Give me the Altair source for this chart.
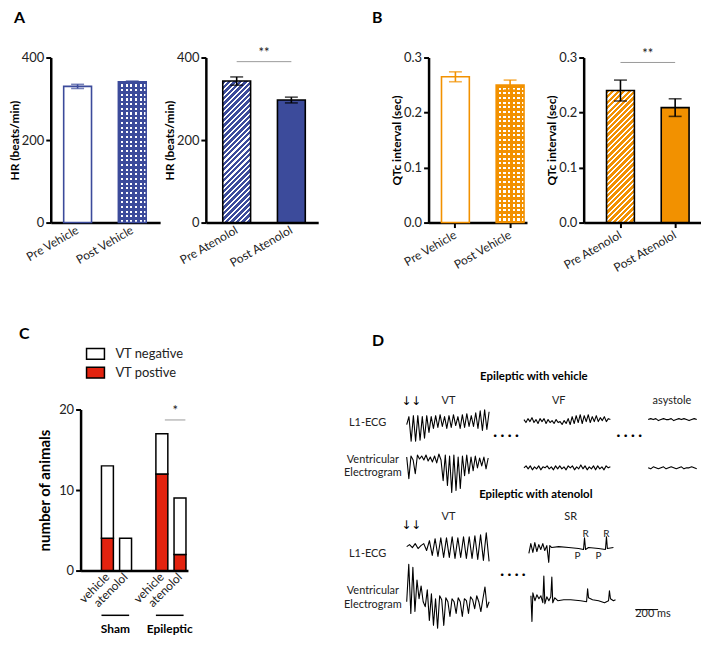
import math
import altair as alt
import pandas as pd

FONT = "Lato"
INK = "#222222"
BLUE = "#3c4b9b"
ORANGE = "#f29100"
RED = "#e3230f"
SIG = "#9a9a9a"

# ---------------- data ----------------
vehicle_cats = ["Pre Vehicle", "Post Vehicle"]
atenolol_cats = ["Pre Atenolol", "Post Atenolol"]
hr_vehicle_mean = [330, 341]
hr_vehicle_sem = [5, 2]
hr_atenolol_mean = [343, 297]
hr_atenolol_sem = [10, 7]
qtc_vehicle_mean = [0.265, 0.250]
qtc_vehicle_sem = [0.009, 0.009]
qtc_atenolol_mean = [0.240, 0.209]
qtc_atenolol_sem = [0.019, 0.016]
hr_ticks = [0, 200, 400]
qtc_ticks = [0.0, 0.1, 0.2, 0.3]

c_groups = ["Sham", "Sham", "Epileptic", "Epileptic"]
c_treatments = ["vehicle", "atenolol", "vehicle", "atenolol"]
c_vt_positive = [4, 0, 12, 2]
c_total = [13, 4, 17, 9]
c_ticks = [0, 10, 20]

# Panel D traces (amplitudes in display units, positive = up)
vt_vehicle_ecg = [0, 8, -17, 9, -17, 9, -16, 8, -14, 9, -8, 8, -4, 9, -3, 10, -2, 8, -4, 9,
                  -3, 10, -1, 8, -4, 10, -3, 11, -2, 9, -2, 12, -4, 14, -6, 15, -5, 13]
vt_vehicle_ve = [3, -19, 4, 0, -14, 5, 1, 4, 0, 5, -1, 3, -2, 4, -3, 6, 0, -21, 5, -26, 4,
                 -33, 5, -31, 3, -29, 4, -16, 5, -14, 3, -11, 4, -8, 2, -6, 3, -9, 2]
vf_ecg = [1, -2, 2, -1, 3, -2, 1, -3, 2, -1, 2, -3, 1, -2, 0, -3, 1, -2, -1, -4, 0, -3,
          2, -4, 4, -3, 5, -2, 6, -3, 5, -1, 6, -2, 4, -1, 5, -1, 3, 0, 4, -1, 2, 1]
vf_ve = [0, 2, -1, 2, -2, 1, -1, 2, -2, 1, 0, 2, -1, 1, -2, 2, -1, 2, -1, 1, -2, 2,
         0, 2, -2, 1, -1, 3, -1, 2, -2, 1, -1, 2, -2, 2, -1, 1, -2, 2, 0, 1]
asystole_ecg = [0, 1, 0, 1, -1, 0, 1, 0, 0, 1, -1, 0, 1, 0, 1, 0, -1, 0, 1, 0]
asystole_ve = [0, -1, 1, 0, -1, 0, 1, -1, 0, 1, 0, -1, 0, 1, -1, 0, 0, 1, 0, -1]
vt_atenolol_ecg = [0, 2, -1, 3, -2, 1, 3, -4, 6, -9, 8, -10, 9, -11, 9, -11, 10, -12, 9, -11,
                   10, -12, 10, -12, 11, -13, 12, -14, 14, -15]
vt_atenolol_ve = [0, 38, -12, 35, -10, 22, 3, 16, 0, -5, 12, -19, 8, -24, 3, -27, 6, 2, -24, 4,
                  0, -15, 3, 0, -12, 4, 0, -15, 3, 1, -12, 5, 2, -7, 6, 0, -10, 3, 15, -6, 0]
sr_ecg_ms = [0, 17, 35, 52, 70, 87, 104, 122, 139, 157, 174, 183, 200, 261, 348, 435, 478,
             487, 496, 522, 609, 670, 679, 687, 740]
sr_ecg_val = [-6, 4, -5, 5, -4, 3, -2, 4, -3, 2, -15, 2, 0, 1, 0, -1, -2, 10, -2, 0, -1, -2,
              11, -1, 0]
sr_ve_ms = [0, 9, 17, 35, 52, 70, 87, 104, 113, 122, 139, 157, 174, 183, 191, 209, 235, 287,
            348, 435, 487, 496, 504, 539, 592, 644, 679, 687, 696, 722, 740]
sr_ve_val = [5, -21, 8, 0, 6, 2, 5, -2, 25, -3, 4, 0, 4, 24, -2, 3, 0, 1, 1, 0, -1, 12, 3,
             1, 0, -2, 0, 10, 2, 0, 1]

# ---------------- helpers ----------------
H_TOP = 166
STEP, BW = 55, 28
ROW_GAP = 188          # gap between the top row plots and the bottom row plots
C_SHIFT = 30           # C plot starts this far right of A1 plot


def stripe_stops(length, period, on_frac, c_on, c_off):
    stops = []
    k = 0
    while k * period < length:
        a = round(k * period / length, 4)
        b = round(min((k + on_frac) * period / length, 1.0), 4)
        c = round(min((k + 1) * period / length, 1.0), 4)
        stops += [{"offset": a, "color": c_on}, {"offset": b, "color": c_on},
                  {"offset": b, "color": c_off}, {"offset": c, "color": c_off}]
        k += 1
    return stops


def hatch(w, h, color):
    k = (w + h) / (w * w + h * h)
    length = (w + h) / math.sqrt(2)
    return {"gradient": "linear", "x1": 0, "y1": 0, "x2": round(w * k, 5), "y2": round(h * k, 5),
            "stops": stripe_stops(length, 3.9, 0.62, color, "white")}


def vstripes(w, color):
    return {"gradient": "linear", "x1": 0, "y1": 0, "x2": 1, "y2": 0,
            "stops": stripe_stops(w, 4.7, 0.55, color, "white")}


def hstripes(h, color):
    return {"gradient": "linear", "x1": 0, "y1": 0, "x2": 0, "y2": 1,
            "stops": stripe_stops(h, 4.7, 0.55, color, "rgba(255,255,255,0)")}


def bar_panel(cats, means, sems, ymax, ticks, fmt, ytitle, kinds, color, edge, err_color,
              width, first_gap, xticks, sig_y, sig_ty, letter=None, letter_dx=0):
    df = pd.DataFrame({"cat": cats, "mean": means,
                       "lo": [m - s for m, s in zip(means, sems)],
                       "hi": [m + s for m, s in zip(means, sems)]})
    pi = 1 - BW / STEP
    outer = width - (STEP + BW)
    xs = alt.Scale(domain=cats, paddingInner=pi, paddingOuter=outer / (2 * STEP),
                   align=first_gap / outer)
    xaxis = alt.Axis(labelAngle=-30, labelAlign="right", labelBaseline="middle", labelPadding=6,
                     labelFontSize=12, labelFont=FONT, labelColor=INK, ticks=xticks, tickSize=5,
                     tickWidth=2, tickColor="black", domainColor="black", domainWidth=2.5)
    ys = alt.Scale(domain=[0, ymax], nice=False)
    yaxis = alt.Axis(values=ticks, format=fmt, labelFontSize=13, labelFont=FONT, labelColor=INK,
                     labelPadding=2, tickSize=5, tickWidth=2, tickColor="black",
                     domainColor="black", domainWidth=2.5, grid=False, titleFont=FONT,
                     titleFontSize=12, titleFontWeight="bold", titleColor="black", titlePadding=0)

    def X(f="cat:N", **kw):
        return alt.X(f, scale=xs, axis=xaxis, title=None, **kw)

    def Y(f):
        return alt.Y(f, scale=ys, axis=yaxis, title=ytitle)

    base = alt.Chart(df)
    layers = []
    for cat, kind, m in zip(cats, kinds, means):
        sub = base.transform_filter(alt.datum.cat == cat)
        enc = dict(x=X(), y=Y("mean:Q"))
        h = m / ymax * H_TOP
        if kind == "open":
            layers.append(sub.mark_bar(fill="white", stroke=color, strokeWidth=1.6).encode(**enc))
        elif kind == "solid":
            layers.append(sub.mark_bar(fill=color, stroke=edge, strokeWidth=1.6).encode(**enc))
        elif kind == "hatch":
            layers.append(sub.mark_bar(fill=hatch(BW, h, color), stroke=edge,
                                       strokeWidth=1.6).encode(**enc))
        elif kind == "checker":
            layers.append(sub.mark_bar(fill=vstripes(BW, color)).encode(**enc))
            layers.append(sub.mark_bar(fill=hstripes(h, color)).encode(**enc))
            layers.append(sub.mark_bar(fillOpacity=0, stroke=color, strokeWidth=1.6).encode(**enc))
    layers.append(base.mark_rule(color=err_color, strokeWidth=1.6).encode(
        x=X(bandPosition=0.5), y=Y("lo:Q"), y2="hi:Q"))
    layers.append(base.mark_tick(color=err_color, thickness=1.6, size=13).encode(
        x=X(bandPosition=0.5), y=Y("hi:Q")))
    layers.append(base.mark_tick(color=err_color, thickness=1.6, size=13).encode(
        x=X(bandPosition=0.5), y=Y("lo:Q")))
    if sig_y is not None:
        sdf = pd.DataFrame({"a": [cats[0]], "b": [cats[1]], "y": [sig_y], "ty": [sig_ty],
                            "s": ["**"]})
        sbase = alt.Chart(sdf)
        layers.append(sbase.mark_rule(color=SIG, strokeWidth=1).encode(
            x=X("a:N", bandPosition=0.5), x2=alt.X2("b:N", bandPosition=0.5), y=Y("y:Q")))
        layers.append(sbase.mark_text(fontSize=13, font=FONT, color=INK, baseline="middle",
                                      dx=(STEP - BW) / 2).encode(
            x=X("a:N", bandPosition=1), y=Y("ty:Q"), text="s:N"))
    props = dict(width=width, height=H_TOP)
    if letter:
        props["title"] = alt.TitleParams(letter, anchor="start", frame="group", dx=letter_dx,
                                         offset=26, fontSize=16, font=FONT, fontWeight="bold",
                                         color="black")
    return alt.layer(*layers).properties(**props)


def spacer(w):
    return alt.Chart(pd.DataFrame({"z": pd.Series([], dtype=float)})).mark_point(
        opacity=0, size=0).encode(
        x=alt.X("z:Q", axis=None), y=alt.Y("z:Q", axis=None)).properties(width=w, height=10)


a1 = bar_panel(vehicle_cats, hr_vehicle_mean, hr_vehicle_sem, 400, hr_ticks, "d",
               "HR (beats/min)", ["open", "checker"], BLUE, BLUE, BLUE, 110, 13, False,
               None, None, letter="A", letter_dx=-37)
a2 = bar_panel(atenolol_cats, hr_atenolol_mean, hr_atenolol_sem, 400, hr_ticks, "d",
               "HR (beats/min)", ["hatch", "solid"], BLUE, "black", "black", 113, 17, False,
               390, 412)
b1 = bar_panel(vehicle_cats, qtc_vehicle_mean, qtc_vehicle_sem, 0.3, qtc_ticks, ".1f",
               "QTc interval (sec)", ["open", "checker"], ORANGE, ORANGE, ORANGE, 99, 13, True,
               None, None, letter="B", letter_dx=-57)
b2 = bar_panel(atenolol_cats, qtc_atenolol_mean, qtc_atenolol_sem, 0.3, qtc_ticks, ".1f",
               "QTc interval (sec)", ["hatch", "solid"], ORANGE, "black", "black", 118, 23, True,
               0.291, 0.307)

# ---------------- panel C ----------------
H_C = 162
W_C = 108
c_rows = []
for g, t, p, tot in zip(c_groups, c_treatments, c_vt_positive, c_total):
    c_rows.append({"cat": g + " " + t, "status": "VT postive", "n": p, "ord": 0})
    c_rows.append({"cat": g + " " + t, "status": "VT negative", "n": tot - p, "ord": 1})
c_df = pd.DataFrame(c_rows)
c_df = c_df[c_df["n"] > 0]
c_domain = ["Sham vehicle", "Sham atenolol", "gap", "Epileptic vehicle", "Epileptic atenolol"]
c_step, c_bw = 18.25, 12
c_pi = 1 - c_bw / c_step
c_outer = W_C - c_step * (5 - c_pi)
cxs = alt.Scale(domain=c_domain, paddingInner=c_pi, paddingOuter=c_outer / (2 * c_step),
                align=21 / c_outer)
cx_axis = alt.Axis(labelAngle=-45, labelAlign="right", labelBaseline="middle", labelPadding=4,
                   labelFontSize=12, labelFont=FONT, labelColor=INK, ticks=False,
                   domainColor="black", domainWidth=2.5,
                   labelExpr="indexof(datum.label, ' ') > 0 ? split(datum.label, ' ')[1] : ''")
cys = alt.Scale(domain=[0, 20], nice=False)
cy_axis = alt.Axis(values=c_ticks, labelFontSize=13, labelFont=FONT, labelColor=INK,
                   labelPadding=2, tickSize=5, tickWidth=2, tickColor="black",
                   domainColor="black", domainWidth=2.5, grid=False, titleFont=FONT,
                   titleFontSize=15, titleFontWeight="bold", titleColor="black", titlePadding=6)


def CX(f="cat:N", **kw):
    return alt.X(f, scale=cxs, axis=cx_axis, title=None, **kw)


def CY(f):
    return alt.Y(f, scale=cys, axis=cy_axis, title="number of animals")


# the legend is laid out in the root group, whose origin is the A1 plot's top-left corner
c_bars = alt.Chart(c_df).mark_bar(stroke="black", strokeWidth=1.5).encode(
    x=CX(),
    y=alt.Y("n:Q", scale=cys, axis=cy_axis, title="number of animals", stack="zero"),
    color=alt.Color("status:N",
                    scale=alt.Scale(domain=["VT negative", "VT postive"], range=["white", RED]),
                    legend=alt.Legend(title=None, orient="none", legendX=C_SHIFT + 5,
                                      legendY=H_TOP + ROW_GAP - 66,
                                      symbolType="M-1,-0.6H1V0.6H-1Z", symbolSize=324,
                                      symbolStrokeColor="black", symbolStrokeWidth=1.5,
                                      labelFontSize=13, labelFont=FONT, labelColor=INK,
                                      labelOffset=10, rowPadding=0)),
    order=alt.Order("ord:Q"),
)
c_sig = pd.DataFrame({"a": ["Epileptic vehicle"], "b": ["Epileptic atenolol"], "y": [18.7],
                      "ty": [19.8], "s": ["*"]})
c_sig_rule = alt.Chart(c_sig).mark_rule(color=SIG, strokeWidth=1).encode(
    x=CX("a:N", bandPosition=0.75), x2=alt.X2("b:N", bandPosition=0.95), y=CY("y:Q"))
c_sig_text = alt.Chart(c_sig).mark_text(fontSize=13, font=FONT, color=INK, baseline="middle").encode(
    x=CX("b:N", bandPosition=0.1), y=CY("ty:Q"), text="s:N")
c_grp = pd.DataFrame({"g": ["Sham", "Epileptic"], "a": ["Sham vehicle", "Epileptic vehicle"],
                      "b": ["Sham atenolol", "Epileptic atenolol"]})
c_grp_rule = alt.Chart(c_grp).mark_rule(color="black", strokeWidth=1.5).encode(
    x=CX("a:N", bandPosition=0), x2=alt.X2("b:N", bandPosition=0.8), y=alt.value(H_C + 45))
c_grp_text = alt.Chart(c_grp).mark_text(fontSize=12, font=FONT, fontWeight="bold",
                                        color="black", baseline="middle", dx=2).encode(
    x=CX("a:N", bandPosition=1), y=alt.value(H_C + 59), text="g:N")
c_chart = alt.layer(c_bars, c_sig_rule, c_sig_text, c_grp_rule, c_grp_text).properties(
    width=W_C, height=H_C,
    title=alt.TitleParams("C", anchor="start", frame="group", dx=-62, offset=62, fontSize=16,
                          font=FONT, fontWeight="bold", color="black"))

# ---------------- panel D ----------------
MS_PER_PX = 8.7
D_W = 355
segments = [
    ("veh_vt_ecg", 522, 1243, 212, vt_vehicle_ecg),
    ("veh_vt_ve", 522, 1235, 176, vt_vehicle_ve),
    ("veh_vf_ecg", 1548, 2304, 216, vf_ecg),
    ("veh_vf_ve", 1548, 2304, 168, vf_ve),
    ("veh_asys_ecg", 2635, 3060, 217, asystole_ecg),
    ("veh_asys_ve", 2635, 3060, 168, asystole_ve),
    ("ate_vt_ecg", 522, 1243, 88, vt_atenolol_ecg),
    ("ate_vt_ve", 522, 1243, 32, vt_atenolol_ve),
]
rows = []
for name, t0, t1, base_y, vals in segments:
    n = len(vals)
    for i, v in enumerate(vals):
        rows.append({"seg": name, "i": i, "t": t0 + (t1 - t0) * i / (n - 1), "y": base_y + v})
for i, (tt, v) in enumerate(zip(sr_ecg_ms, sr_ecg_val)):
    rows.append({"seg": "ate_sr_ecg", "i": i, "t": 1591 + tt, "y": 87 + v})
for i, (tt, v) in enumerate(zip(sr_ve_ms, sr_ve_val)):
    rows.append({"seg": "ate_sr_ve", "i": i, "t": 1609 + tt, "y": 33 + v})
trace_df = pd.DataFrame(rows)

dxs = alt.Scale(domain=[0, D_W * MS_PER_PX], nice=False, zero=False)
dys = alt.Scale(domain=[0, 300], range=[225, -72], nice=False, zero=False)


def DX(f):
    return alt.X(f, scale=dxs, axis=None)


def DY(f):
    return alt.Y(f, scale=dys, axis=None)


d_lines = alt.Chart(trace_df).mark_line(color="black", strokeWidth=1.1, strokeJoin="round").encode(
    x=DX("t:Q"), y=DY("y:Q"), detail="seg:N", order="i:Q")

d_labels = pd.DataFrame({
    "txt": ["Epileptic with vehicle", "Epileptic with atenolol",
            "VT", "VF", "asystole", "VT", "SR",
            "Ventricular", "Electrogram", "Ventricular", "Electrogram",
            "L1-ECG", "L1-ECG", "200 ms",
            "R", "R", "P", "P",
            "↓↓", "↓↓", "· · · ·", "· · · ·", "· · · ·"],
    "t": [1635, 1652, 887, 1852, 2843, 887, 1957, 226, 226, 226, 226, 17, 17, 2522,
          2087, 2270, 2017, 2200, 565, 565, 1391, 2470, 1452],
    "y": [260, 140, 236, 236, 236, 118, 118, 176, 163, 43, 29, 214, 80, 19,
          101, 101, 78, 78, 236, 110, 200, 200, 59],
    "kind": ["bold", "bold", "reg", "reg", "reg", "reg", "reg", "reg", "reg", "reg", "reg",
             "left", "left", "left", "small", "small", "small", "small", "arrow", "arrow",
             "dots", "dots", "dots"],
})
d_base = alt.Chart(d_labels)
d_text_layers = [
    d_base.transform_filter(alt.datum.kind == "bold").mark_text(
        fontSize=11.5, font=FONT, fontWeight="bold", color="black", baseline="middle"),
    d_base.transform_filter(alt.datum.kind == "reg").mark_text(
        fontSize=11, font=FONT, color=INK, baseline="middle"),
    d_base.transform_filter(alt.datum.kind == "left").mark_text(
        fontSize=11, font=FONT, color=INK, baseline="middle", align="left"),
    d_base.transform_filter(alt.datum.kind == "small").mark_text(
        fontSize=10, font=FONT, color=INK, baseline="middle"),
    d_base.transform_filter(alt.datum.kind == "arrow").mark_text(
        fontSize=12, font="DejaVu Sans", color="black", baseline="middle"),
    d_base.transform_filter(alt.datum.kind == "dots").mark_text(
        fontSize=14, font=FONT, fontWeight="bold", color="black", baseline="middle"),
]
d_text_layers = [l.encode(x=DX("t:Q"), y=DY("y:Q"), text="txt:N") for l in d_text_layers]
scale_bar = pd.DataFrame({"t1": [2522], "t2": [2522 + 200], "y": [24]})
d_bar = alt.Chart(scale_bar).mark_rule(color="black", strokeWidth=1).encode(
    x=DX("t1:Q"), x2="t2:Q", y=DY("y:Q"))
d_chart = alt.layer(d_lines, *d_text_layers, d_bar).properties(
    width=D_W, height=150,
    title=alt.TitleParams("D", anchor="start", frame="group", dx=25, offset=22, fontSize=16,
                          font=FONT, fontWeight="bold", color="black"))

# ---------------- layout ----------------
# (nested concat rows have no explicit size under flush bounds, so the row
#  spacing below is the distance between the tops of the two rows of plots)
top = alt.hconcat(a1, spacer(46), a2, spacer(111), b1, spacer(57), b2,
                  spacing=0, bounds="flush")
bottom = alt.hconcat(spacer(C_SHIFT), c_chart, spacer(160), d_chart, spacing=0, bounds="flush")
chart = alt.vconcat(top, bottom, spacing=H_TOP + ROW_GAP, bounds="flush",
                    padding={"left": 0, "top": 0, "right": 0, "bottom": 0}).configure(
    font=FONT).configure_view(stroke=None)

chart.save("out.html", embed_options={"renderer": "svg", "actions": False})
